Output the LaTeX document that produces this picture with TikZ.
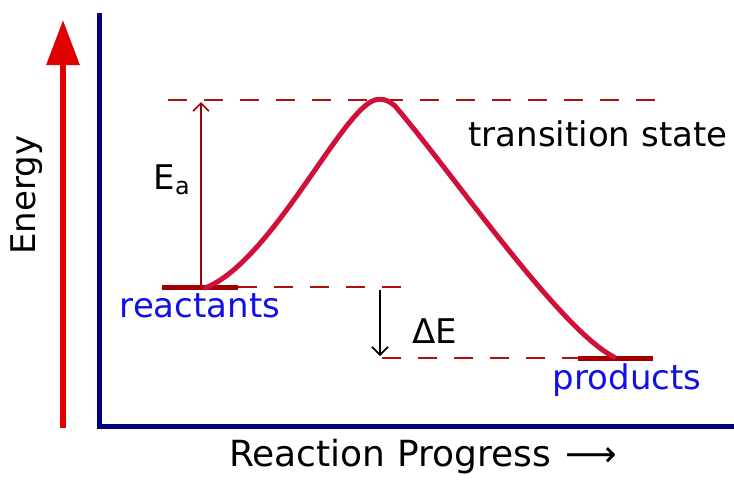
\documentclass[tikz,border=0pt]{standalone}
\usepackage{fontspec}
\setmainfont{DejaVu Sans}
\usetikzlibrary{arrows.meta}
\definecolor{arrowred}{HTML}{E00000}
\definecolor{axisblue}{HTML}{000080}
\definecolor{dashred}{HTML}{B01010}
\definecolor{barred}{HTML}{A00000}
\definecolor{curvered}{HTML}{D0103A}
\definecolor{labelblue}{HTML}{1010E8}
\tikzset{
  lvl/.style={dashred, line width=2.5pt, dash pattern=on 19pt off 17pt},
  bar/.style={barred, line width=5pt},
  blab/.style={text=labelblue, font=\fontsize{34}{34}\selectfont, inner sep=0pt},
  klab/.style={text=black, font=\fontsize{34}{34}\selectfont, inner sep=0pt},
}
\begin{document}
\begin{tikzpicture}[x=1pt,y=-1pt]
\useasboundingbox (0,0) rectangle (734,485);
% axes
\coordinate (ytop) at (99,13);
\coordinate (origin) at (99,426);
\coordinate (xend) at (734,426);
\draw[axisblue, line width=5pt] (ytop) -- (origin) -- (xend);
% energy arrow
\coordinate (ea0) at (63,428);
\coordinate (ea1) at (63,20);
\draw[arrowred, line width=6pt, -{Triangle[length=45pt,width=32pt]}] (ea0) -- (ea1);
\node[klab, rotate=90] (energy) at (27,195) {Energy};
% levels
\coordinate (tsL) at (168,100);
\coordinate (tsR) at (655,100);
\draw[lvl] (tsL) -- (tsR);
\coordinate (rL) at (162,287);
\coordinate (rR) at (238,287);
\coordinate (rdR) at (405,287);
\draw[lvl] (rR) -- (rdR);
\draw[bar] (rL) -- (rR);
\coordinate (pL) at (578,358);
\coordinate (pR) at (653,358);
\coordinate (pdL) at (382,358);
\draw[lvl] (pdL) -- (pL);
\draw[bar] (pL) -- (pR);
% Ea arrow
\coordinate (eaB) at (201,288);
\coordinate (eaT) at (201,102);
\draw[barred, line width=1.6pt, -{Straight Barb[length=8pt,width=16pt]}] (eaB) -- (eaT);
\node[klab] (Ea) at (172,180) {E\textsubscript{a}};
% curve
\coordinate (cs) at (205,288);
\coordinate (c1) at (365,106);
\coordinate (c2) at (395,106);
\coordinate (ce) at (614,357);
\draw[curvered, line width=5pt, line cap=round, line join=round]
  (cs) .. controls (265,265) and (330,135) .. (c1)
       .. controls (375,97) and (385,97) .. (c2)
       .. controls (450,170) and (560,330) .. (ce);
% Delta E arrow
\coordinate (dT) at (380,290);
\coordinate (dB) at (380,356);
\draw[black, line width=1.6pt, -{Straight Barb[length=8pt,width=16pt]}] (dT) -- (dB);
\node[klab, anchor=west] (dE) at (412,331) {ΔE};
% labels
\node[blab] (react) at (200,306) {reactants};
\node[blab] (prod) at (627,380) {products};
\node[klab] (ts) at (598,134) {transition state};
\node[klab, font=\fontsize{36}{36}\selectfont] (rp) at (423,457) {Reaction Progress\hspace{0.4em}⟶};
\end{tikzpicture}
\end{document}
